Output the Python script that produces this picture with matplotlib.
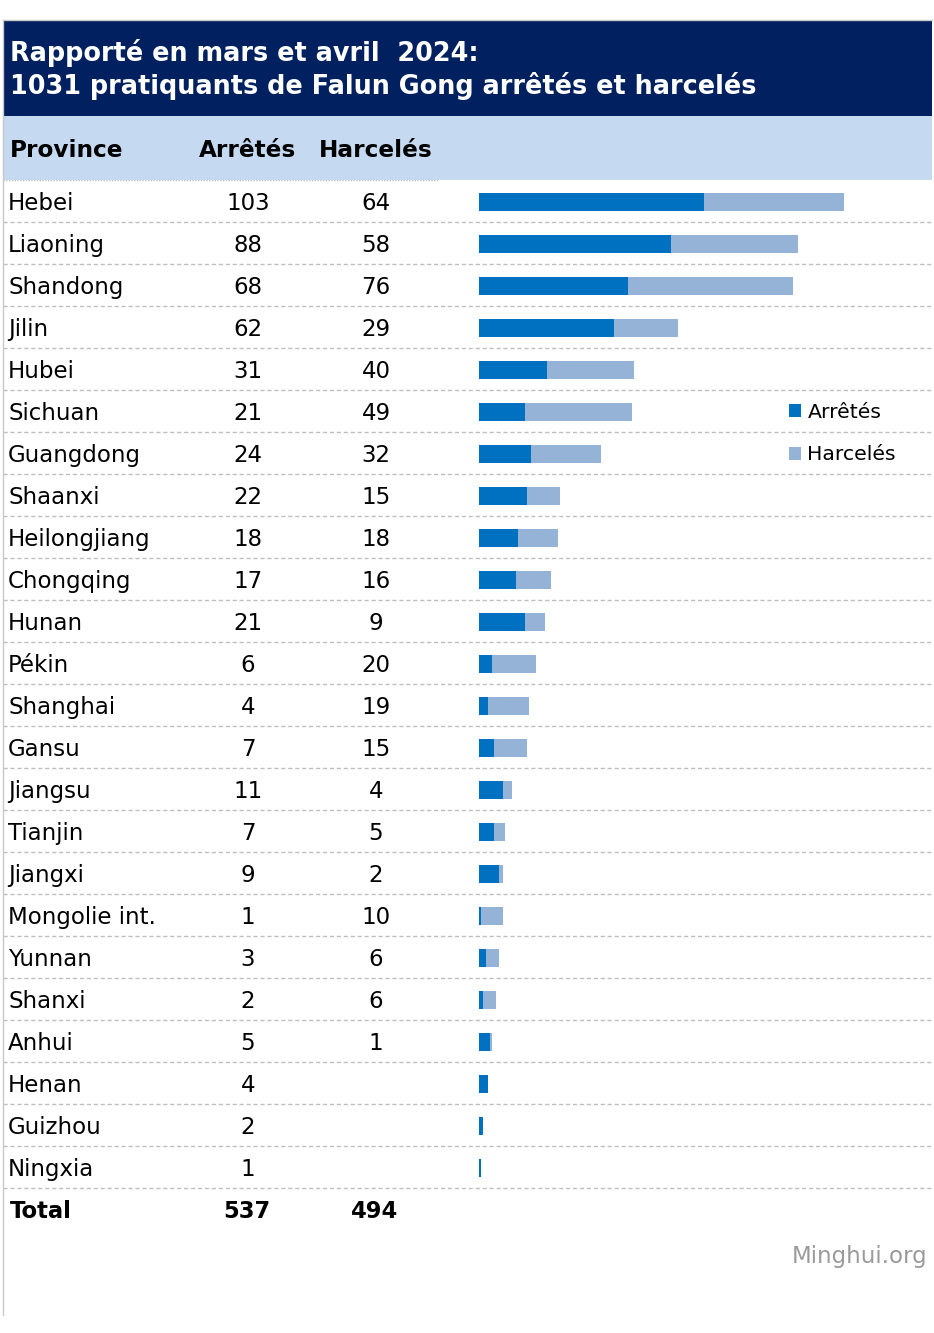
import matplotlib
matplotlib.use("Agg")
import matplotlib.pyplot as plt
from matplotlib.patches import Rectangle
from matplotlib.lines import Line2D

# ---------------- data ----------------
provinces = ["Hebei", "Liaoning", "Shandong", "Jilin", "Hubei", "Sichuan", "Guangdong",
             "Shaanxi", "Heilongjiang", "Chongqing", "Hunan", "Pékin", "Shanghai", "Gansu",
             "Jiangsu", "Tianjin", "Jiangxi", "Mongolie int.", "Yunnan", "Shanxi", "Anhui",
             "Henan", "Guizhou", "Ningxia"]
arrested = [103, 88, 68, 62, 31, 21, 24, 22, 18, 17, 21, 6, 4, 7, 11, 7, 9, 1, 3, 2, 5, 4, 2, 1]
harassed = [64, 58, 76, 29, 40, 49, 32, 15, 18, 16, 9, 20, 19, 15, 4, 5, 2, 10, 6, 6, 1,
            None, None, None]
title_lines = ["Rapporté en mars et avril  2024:",
               "1031 pratiquants de Falun Gong arrêtés et harcelés"]
col_headers = ["Province", "Arrêtés", "Harcelés"]
series_names = ["Arrêtés", "Harcelés"]
total_label = "Total"
source = "Minghui.org"

# ---------------- style ----------------
W, H = 934, 1333
NAVY = "#002060"
LIGHT = "#C5D9F1"
C_ARR = "#0070C0"
C_HAR = "#95B3D7"
GRID = "#BFBFBF"
plt.rcParams["font.family"] = ["DejaVu Sans"]

fig = plt.figure(figsize=(W / 100, H / 100), dpi=100)
fig.patch.set_facecolor("white")


def px(x0, y0, x1, y1):
    return [x0 / W, 1 - y1 / H, (x1 - x0) / W, (y1 - y0) / H]


def frect(x0, y0, x1, y1, color):
    fig.add_artist(Rectangle((x0 / W, 1 - y1 / H), (x1 - x0) / W, (y1 - y0) / H,
                             transform=fig.transFigure, facecolor=color,
                             edgecolor="none", zorder=0))


# bands
frect(3, 20, 932, 116, NAVY)
frect(3, 116, 932, 180, LIGHT)
# outer border lines
fig.add_artist(Line2D([3 / W, 3 / W], [1 - 20 / H, 1 - 1315 / H], transform=fig.transFigure,
                      color="#C8C8C8", lw=1))
fig.add_artist(Line2D([3 / W, 932 / W], [1 - 20 / H, 1 - 20 / H], transform=fig.transFigure,
                      color="#C8C8C8", lw=1))

# title
fig.text(10 / W, 1 - 61 / H, title_lines[0], color="white", fontsize=18.4,
         fontweight="bold", va="baseline", ha="left")
fig.text(10 / W, 1 - 94 / H, title_lines[1], color="white", fontsize=18.4,
         fontweight="bold", va="baseline", ha="left")

# column headers
hdr_y = 1 - 157 / H
fig.text(10 / W, hdr_y, col_headers[0], fontsize=16.7, fontweight="bold", va="baseline", ha="left")
fig.text(248 / W, hdr_y, col_headers[1], fontsize=16.7, fontweight="bold", va="baseline", ha="center")
fig.text(376 / W, hdr_y, col_headers[2], fontsize=16.7, fontweight="bold", va="baseline", ha="center")

# ---------------- table axes (rows) ----------------
n = len(provinces)
ax_t = fig.add_axes(px(3, 180, 932, 180 + 42 * (n + 1)))
ax_t.set_xlim(3, 932)
ax_t.set_ylim(n + 0.5, -0.5)
ax_t.axis("off")

FS = 16.5
BL = 9 / 42  # baseline offset below row centre
for i, (p, a, h) in enumerate(zip(provinces, arrested, harassed)):
    ax_t.text(8, i + BL, p, fontsize=FS, va="baseline", ha="left")
    ax_t.text(248, i + BL, str(a), fontsize=FS, va="baseline", ha="center")
    if h is not None:
        ax_t.text(376, i + BL, str(h), fontsize=FS, va="baseline", ha="center")
    ax_t.plot([3, 932], [i + 0.5, i + 0.5], color=GRID, lw=1, ls=(0, (3, 2)))
ax_t.plot([3, 438], [-0.5, -0.5], color=GRID, lw=1, ls=(0, (1, 1)))

tot_a = sum(arrested)
tot_h = sum(v for v in harassed if v is not None)
ax_t.text(10, n + BL, total_label, fontsize=16.3, fontweight="bold", va="baseline", ha="left")
ax_t.text(247, n + BL, str(tot_a), fontsize=16.3, fontweight="bold", va="baseline", ha="center")
ax_t.text(375, n + BL, str(tot_h), fontsize=16.3, fontweight="bold", va="baseline", ha="center")

# ---------------- bar axes ----------------
ax_b = fig.add_axes(px(479, 181, 932, 181 + 42 * n))
ax_b.set_xlim(0, 453 / 2.184)
ax_b.set_ylim(n - 0.5, -0.5)
ax_b.axis("off")
ypos = list(range(n))
h_vals = [v if v is not None else 0 for v in harassed]
ax_b.barh(ypos, arrested, height=0.41, color=C_ARR, label=series_names[0], linewidth=0)
ax_b.barh(ypos, h_vals, left=arrested, height=0.41, color=C_HAR, label=series_names[1], linewidth=0)

leg = ax_b.legend(loc="upper left", bbox_to_anchor=(789 / W, 1 - 403 / H),
                  bbox_transform=fig.transFigure, frameon=False, fontsize=14.7,
                  handlelength=0.6, handleheight=0.6, handletextpad=0.3,
                  labelspacing=1.15, borderpad=0, borderaxespad=0)

# source
fig.text(927 / W, 1 - 1263 / H, source, fontsize=16.5, color="#9A9A9A", va="baseline", ha="right")

fig.savefig("out.png", dpi=100, facecolor="white")
